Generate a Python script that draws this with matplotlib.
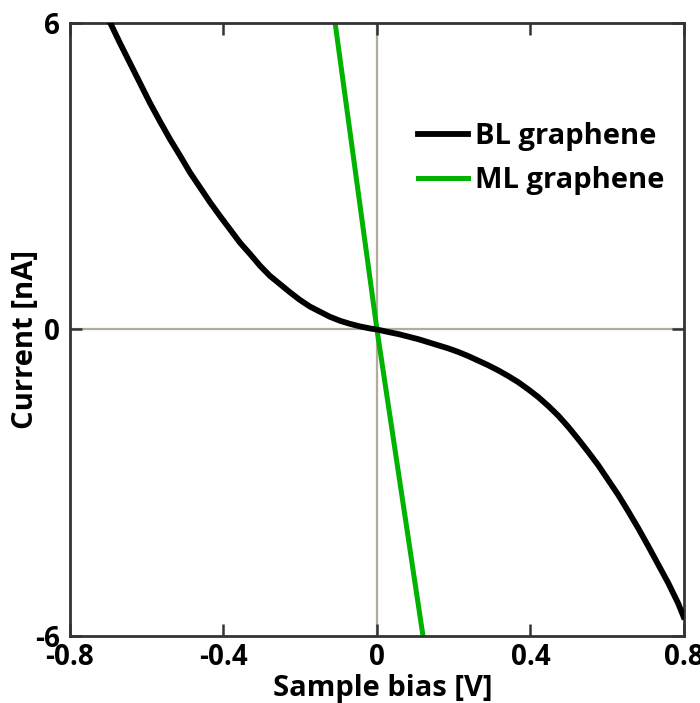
import matplotlib
matplotlib.use("Agg")
import matplotlib.pyplot as plt

# BL graphene I-V curve
bl_bias = [-0.695, -0.670, -0.644, -0.618, -0.592, -0.566, -0.539, -0.513, -0.487,
           -0.461, -0.435, -0.409, -0.383, -0.357, -0.331, -0.305, -0.279, -0.253,
           -0.227, -0.201, -0.175, -0.149, -0.123, -0.096, -0.070, -0.044, -0.018,
           0.0, 0.030, 0.056, 0.082, 0.108, 0.134, 0.160, 0.186, 0.212, 0.238,
           0.264, 0.290, 0.316, 0.342, 0.368, 0.394, 0.420, 0.447, 0.473, 0.499,
           0.525, 0.551, 0.577, 0.603, 0.629, 0.655, 0.681, 0.707, 0.733, 0.759,
           0.785, 0.799]
bl_current = [6.0, 5.61, 5.22, 4.83, 4.44, 4.08, 3.72, 3.40, 3.07,
              2.78, 2.49, 2.22, 1.96, 1.70, 1.48, 1.25, 1.05, 0.89,
              0.73, 0.58, 0.45, 0.35, 0.25, 0.17, 0.11, 0.06, 0.02,
              0.0, -0.05, -0.09, -0.14, -0.19, -0.25, -0.31, -0.37, -0.44, -0.52,
              -0.61, -0.70, -0.80, -0.91, -1.03, -1.17, -1.32, -1.50, -1.69, -1.91,
              -2.15, -2.40, -2.66, -2.95, -3.24, -3.56, -3.89, -4.24, -4.60, -4.96,
              -5.36, -5.62]

# ML graphene (nearly linear)
ml_bias = [-0.109, 0.0, 0.12]
ml_current = [6.0, 0.0, -6.0]

xticks = [-0.8, -0.4, 0, 0.4, 0.8]
xticklabels = ["-0.8", "-0.4", "0", "0.4", "0.8"]
yticks = [-6, 0, 6]
yticklabels = ["-6", "0", "6"]

plt.rcParams['font.family'] = ['Open Sans', 'DejaVu Sans']
plt.rcParams['font.weight'] = 'bold'

fig = plt.figure(figsize=(7, 7.03), dpi=100)
ax = fig.add_axes([0.1, 0.0953, 0.877, 0.872])

ax.axhline(0, color='#b3ab9b', lw=1.6, zorder=1)
ax.axvline(0, color='#b3ab9b', lw=1.6, zorder=1)

ax.plot(bl_bias, bl_current, color='black', lw=4.2, label='BL graphene',
        zorder=3, solid_joinstyle='round')
ax.plot(ml_bias, ml_current, color='#00b300', lw=3.6, label='ML graphene', zorder=2)

ax.set_xlim(-0.8, 0.8)
ax.set_ylim(-6, 6)
ax.set_xticks(xticks)
ax.set_xticklabels(xticklabels)
ax.set_yticks(yticks)
ax.set_yticklabels(yticklabels)
ax.tick_params(direction='in', length=8.5, width=1.8, color='#333333',
               top=True, right=True, labelsize=20, pad=5)
ax.tick_params(axis='y', pad=7)
for s in ax.spines.values():
    s.set_linewidth(2.0)
    s.set_color('#333333')

ax.set_xlabel("Sample bias [V]", fontsize=21, fontweight='bold')
ax.xaxis.set_label_coords(0.509, -0.062)
ax.set_ylabel("Current [nA]", fontsize=21, fontweight='bold')
ax.yaxis.set_label_coords(-0.049, 0.483)

leg = ax.legend(loc='upper left', bbox_to_anchor=(0.567, 0.838), frameon=False,
                fontsize=21, handlelength=1.71, handletextpad=0.24,
                labelspacing=0.5, borderpad=0, borderaxespad=0)

fig.savefig("out.png", dpi=100)
